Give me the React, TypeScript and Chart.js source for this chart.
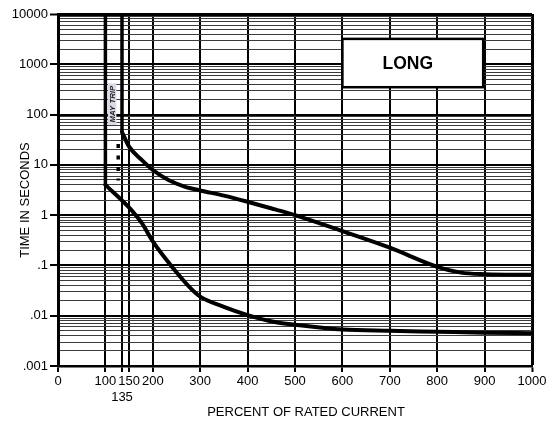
import React, { useEffect, useRef } from 'react';
import { Chart, registerables } from 'chart.js';

Chart.register(...registerables);

// ---- data ----
const xTickValues = [0, 100, 135, 150, 200, 300, 400, 500, 600, 700, 800, 900, 1000];
const yDecadeValues = [0.001, 0.01, 0.1, 1, 10, 100, 1000, 10000];
const yDecadeLabels = ['.001', '.01', '.1', '1', '10', '100', '1000', '10000'];

// Maximum (upper) trip curve
const maxTripVerticalCurrent = [135, 135];
const maxTripVerticalTime = [10000, 45];
const maxTripCurrent = [135, 150, 177, 200, 233, 267, 300, 350, 400, 458, 500, 600, 700, 800, 850, 900, 1000];
const maxTripTime = [45, 23, 12.4, 7.9, 5.0, 3.7, 3.1, 2.45, 1.85, 1.3, 1.0, 0.48, 0.225, 0.094, 0.072, 0.067, 0.065];

// Minimum (lower) trip curve
const minTripVerticalCurrent = [100, 100];
const minTripVerticalTime = [10000, 4.0];
const minTripCurrent = [100, 155, 177, 200, 246, 280, 300, 350, 400, 460, 500, 600, 700, 800, 900, 1000];
const minTripTime = [4.0, 1.26, 0.69, 0.30, 0.081, 0.035, 0.024, 0.015, 0.0103, 0.0074, 0.0066, 0.0053, 0.0050, 0.0048, 0.0046, 0.0045];

// "May trip" dotted marker
const mayTripCurrent = [127, 127];
const mayTripTime = [26, 4.9];

const FONT = '"Liberation Sans", Arial, Helvetica, sans-serif';

const toPoints = (xs: number[], ys: number[]) => xs.map((x, i) => ({ x, y: ys[i] }));

const yGridValues: number[] = [];
for (let e = -3; e < 4; e++) {
  for (let k = 1; k < 10; k++) yGridValues.push(Number((k * Math.pow(10, e)).toPrecision(3)));
}
yGridValues.push(10000);

const isDecade = (v: number) => {
  const l = Math.log10(v);
  return Math.abs(l - Math.round(l)) < 1e-9;
};

const annotationPlugin = {
  id: 'tccAnnotations',
  afterDatasetsDraw(chart: any) {
    const { ctx, scales } = chart;
    const x = scales.x;
    const y = scales.y;
    ctx.save();

    // LONG box
    const l = x.getPixelForValue(600);
    const r = x.getPixelForValue(897);
    const t = y.getPixelForValue(3200);
    const b = y.getPixelForValue(350);
    ctx.fillStyle = '#ffffff';
    ctx.fillRect(l, t, r - l, b - t);
    ctx.lineWidth = 2.5;
    ctx.strokeStyle = '#000';
    ctx.strokeRect(l, t, r - l, b - t);
    ctx.fillStyle = '#000';
    ctx.font = `bold 17.5px ${FONT}`;
    ctx.textAlign = 'center';
    ctx.textBaseline = 'middle';
    ctx.fillText('LONG', x.getPixelForValue(738), y.getPixelForValue(1000));

    // MAY TRIP label box
    const bx0 = x.getPixelForValue(100) + 2.5;
    const bx1 = bx0 + 8.5;
    const by0 = y.getPixelForValue(420);
    const by1 = y.getPixelForValue(62);
    ctx.fillStyle = '#d9dbe7';
    ctx.fillRect(bx0, by0, bx1 - bx0, by1 - by0);
    ctx.translate((bx0 + bx1) / 2, (by0 + by1) / 2);
    ctx.rotate(-Math.PI / 2);
    ctx.fillStyle = '#1a1a1a';
    ctx.font = `italic bold 7.8px ${FONT}`;
    ctx.textAlign = 'center';
    ctx.textBaseline = 'middle';
    ctx.fillText('MAY TRIP', 0, 0.5);
    ctx.restore();

    // axis titles
    ctx.save();
    ctx.fillStyle = '#000';
    ctx.font = `13px ${FONT}`;
    ctx.textAlign = 'center';
    ctx.textBaseline = 'middle';
    ctx.fillText('PERCENT OF RATED CURRENT', 306, 412);
    ctx.translate(25, 200);
    ctx.rotate(-Math.PI / 2);
    ctx.fillText('TIME IN SECONDS', 0, 0);
    ctx.restore();
  },
};

export default function App() {
  const canvasRef = useRef<HTMLCanvasElement | null>(null);

  useEffect(() => {
    if (!canvasRef.current) return;
    Chart.defaults.font.family = FONT;
    const common = {
      borderColor: '#000',
      pointRadius: 0,
      pointHoverRadius: 0,
      fill: false,
      borderJoinStyle: 'round' as const,
      borderCapStyle: 'round' as const,
    };
    const chart = new Chart(canvasRef.current, {
      type: 'line',
      data: {
        datasets: [
          { ...common, data: toPoints(maxTripVerticalCurrent, maxTripVerticalTime), borderWidth: 3.5, tension: 0 },
          { ...common, data: toPoints(maxTripCurrent, maxTripTime), borderWidth: 4, cubicInterpolationMode: 'monotone' },
          { ...common, data: toPoints(minTripVerticalCurrent, minTripVerticalTime), borderWidth: 3.5, tension: 0 },
          { ...common, data: toPoints(minTripCurrent, minTripTime), borderWidth: 4, cubicInterpolationMode: 'monotone' },
          {
            ...common,
            data: toPoints(mayTripCurrent, mayTripTime),
            borderWidth: 3.5,
            borderCapStyle: 'butt',
            borderDash: [4, 7.5],
            tension: 0,
          },
        ],
      },
      options: {
        responsive: false,
        animation: false,
        devicePixelRatio: 1,
        layout: { padding: { top: 14, right: 24, bottom: 0, left: 0 } },
        plugins: { legend: { display: false }, tooltip: { enabled: false }, title: { display: false } },
        events: [],
        scales: {
          x: {
            type: 'linear',
            min: 0,
            max: 1000,
            afterBuildTicks: (scale: any) => {
              scale.ticks = xTickValues.map((v) => ({ value: v }));
            },
            afterFit: (scale: any) => {
              scale.height = 58;
            },
            ticks: {
              autoSkip: false,
              maxRotation: 0,
              minRotation: 0,
              padding: 2,
              color: '#000',
              font: { size: 13, family: FONT },
              callback: (v: any) => (Number(v) === 135 ? ['', '135'] : String(v)),
            },
            grid: {
              color: '#000',
              lineWidth: (ctx: any) => (ctx.tick && ctx.tick.value === 1000 ? 3 : 2),
              tickLength: 6,
              tickWidth: 2,
              tickColor: '#000',
            },
            border: { color: '#000', width: 2.5 },
          },
          y: {
            type: 'logarithmic',
            min: 0.001,
            max: 10000,
            afterBuildTicks: (scale: any) => {
              scale.ticks = yGridValues.map((v) => ({ value: v, major: isDecade(v) }));
            },
            afterFit: (scale: any) => {
              scale.width = 58;
            },
            ticks: {
              autoSkip: false,
              padding: 2,
              color: '#000',
              font: { size: 13, family: FONT },
              callback: (v: any) => {
                const val = Number(v);
                const idx = yDecadeValues.findIndex((d) => Math.abs(Math.log10(d) - Math.log10(val)) < 1e-6);
                return idx >= 0 ? yDecadeLabels[idx] : '';
              },
            },
            grid: {
              color: (ctx: any) => (ctx.tick && isDecade(ctx.tick.value) ? '#000' : '#3c3c3c'),
              lineWidth: (ctx: any) => {
                if (!ctx.tick) return 1;
                if (ctx.tick.value >= 10000) return 3;
                return isDecade(ctx.tick.value) ? 2 : 1;
              },
              tickLength: 8,
              tickWidth: 2,
              tickColor: (ctx: any) => (ctx.tick && isDecade(ctx.tick.value) ? '#000' : 'rgba(0,0,0,0)'),
            },
            border: { color: '#000', width: 3 },
          },
        },
      },
      plugins: [annotationPlugin],
    } as any);
    return () => chart.destroy();
  }, []);

  return (
    <div style={{ position: 'absolute', left: 0, top: 0, width: 556, height: 424, background: '#fff' }}>
      <canvas ref={canvasRef} width={556} height={424} style={{ display: 'block', width: 556, height: 424 }} />
    </div>
  );
}
